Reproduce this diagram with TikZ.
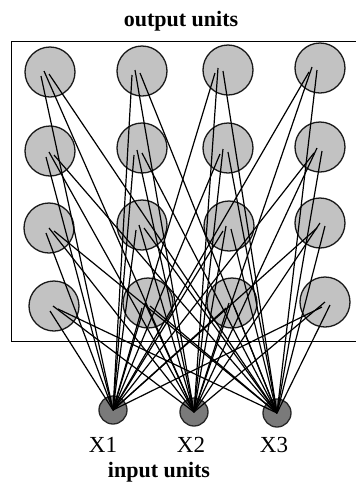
\documentclass[tikz,border=0pt]{standalone}
\usepackage{fontspec}
\setmainfont{Liberation Serif}
\usetikzlibrary{calc}
\begin{document}
\begin{tikzpicture}[x=0.5pt,y=-0.5pt,
  outunit/.style={circle,draw=black!90,line width=0.65pt,fill=black!24,minimum size=25pt,inner sep=0pt},
  inunit/.style={circle,draw=black!85,line width=0.65pt,fill=black!52,minimum size=14pt,inner sep=0pt},
  link/.style={line width=0.6pt,black},
  heading/.style={font=\bfseries\fontsize{11}{13}\selectfont},
  unitlabel/.style={font=\fontsize{11.5}{13}\selectfont}]
\useasboundingbox (0,0) rectangle (356,484);

% frame around the output layer (open on the right)
\draw[line width=0.8pt] (356,41.5) -- (11.5,41.5) -- (11.5,341.5) -- (356,341.5);

% titles
\node[heading] (toptitle) at (181,21) {output units};
\node[heading] (bottitle) at (159,472) {input units};

% output units, 4 x 4
\node[outunit] (o11) at (50,72) {};
\node[outunit] (o12) at (142,71) {};
\node[outunit] (o13) at (228,70) {};
\node[outunit] (o14) at (320,68) {};
\node[outunit] (o21) at (50,151) {};
\node[outunit] (o22) at (142,148) {};
\node[outunit] (o23) at (228,148) {};
\node[outunit] (o24) at (320,147) {};
\node[outunit] (o31) at (49,228) {};
\node[outunit] (o32) at (142,225) {};
\node[outunit] (o33) at (229,226) {};
\node[outunit] (o34) at (320,223) {};
\node[outunit] (o41) at (54,306) {};
\node[outunit] (o42) at (148,303) {};
\node[outunit] (o43) at (232,303) {};
\node[outunit] (o44) at (325,302) {};

% input units
\node[inunit] (x1) at (113,410) {};
\node[inunit] (x2) at (194,412) {};
\node[inunit] (x3) at (277,413) {};

\node[unitlabel] (l1) at (103,445) {X1};
\node[unitlabel] (l2) at (191,445) {X2};
\node[unitlabel] (l3) at (274,445) {X3};

% full connections: every input to every output unit
\foreach \o/\ox/\oy in {o11/-5/0, o12/-6/0, o13/-9/-1, o14/-7/0,
                        o21/0/2, o22/-4/3, o23/-4/2, o24/-2/2,
                        o31/1/1, o32/-2/1, o33/-2/1, o34/1/1,
                        o41/0/1, o42/-2/1, o43/-2/1, o44/1/1}
  \foreach \i/\dx/\dy in {x1/-4/4, x2/-1/-1, x3/4/2}
    \draw[link] (\i.center) -- ($(\o.center)+(\ox+\dx,\oy+\dy)$);
\end{tikzpicture}
\end{document}
